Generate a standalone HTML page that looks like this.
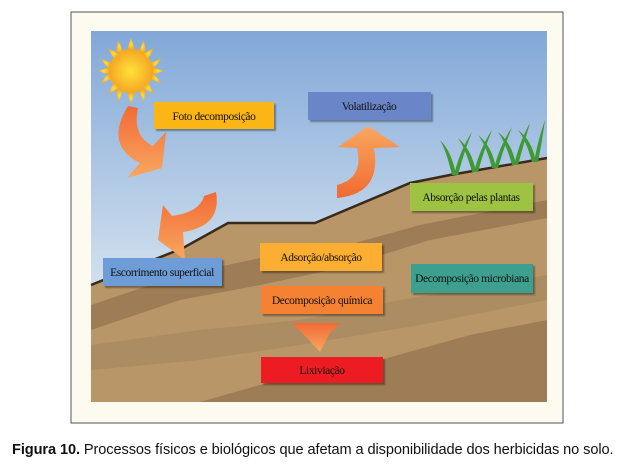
<!DOCTYPE html>
<html><head><meta charset="utf-8"><style>
html,body{margin:0;padding:0;background:#fff;width:631px;height:470px;overflow:hidden}
.cap{position:absolute;left:12px;top:442px;font-family:"Liberation Sans",sans-serif;font-size:14.6px;color:#111;white-space:nowrap;letter-spacing:-0.1px}
</style></head><body>
<svg width="631" height="440" style="position:absolute;left:0;top:0">
<defs>
<linearGradient id="sky" x1="0" y1="0" x2="0" y2="1"><stop offset="0" stop-color="#82a8d8"/><stop offset="0.6" stop-color="#c8daec"/><stop offset="1" stop-color="#eef2f2"/></linearGradient>
<radialGradient id="sun"><stop offset="0" stop-color="#ffe23a"/><stop offset="1" stop-color="#f5a623"/></radialGradient>
<linearGradient id="ar" x1="0" y1="0" x2="0" y2="1"><stop offset="0" stop-color="#f26a35"/><stop offset="1" stop-color="#f8a860"/></linearGradient>
<linearGradient id="ar2" x1="0" y1="0" x2="0" y2="1"><stop offset="0" stop-color="#f8a860"/><stop offset="1" stop-color="#f26a30"/></linearGradient>
<filter id="sh"><feDropShadow dx="2" dy="2" stdDeviation="0.8" flood-color="#000" flood-opacity="0.35"/></filter>
</defs>
<rect x="71" y="12" width="492" height="411" fill="#fdfbef" stroke="#555" stroke-width="1"/>
<rect x="91" y="31" width="456" height="371" fill="url(#sky)"/>
<polygon points="91,285 183,248 228,223 315,223 410,183 450,175 547,158 547,402 91,402" fill="#b89668"/>
<polygon points="91,305 180,275 260,258 330,250 420,225 547,200 547,218 430,240 340,268 260,285 180,300 91,330" fill="#9e7c55"/>
<polygon points="91,345 200,330 300,320 400,300 547,275 547,300 420,325 300,345 200,360 91,370" fill="#a98a60" opacity="0.8"/>
<polygon points="200,402 260,385 380,360 470,335 547,320 547,402" fill="#9e7c55"/>
<polyline points="91,285 183,248 228,223 315,223 410,183 450,175 547,158" fill="none" stroke="#3a2a1a" stroke-width="2.5"/>
<g fill="#3f9a35">
<path d="M452,175 Q446,150 440,140 Q452,152 456,175Z"/><path d="M454,175 Q460,150 472,132 Q464,152 458,175Z"/>
<path d="M472,172 Q466,150 458,138 Q472,150 476,172Z"/><path d="M474,172 Q480,148 492,130 Q484,150 478,172Z"/>
<path d="M492,168 Q486,145 478,135 Q492,146 496,168Z"/><path d="M494,168 Q500,145 512,127 Q504,147 498,168Z"/>
<path d="M512,165 Q506,143 498,132 Q512,143 516,165Z"/><path d="M514,165 Q520,140 530,123 Q524,143 518,165Z"/>
<path d="M532,162 Q526,140 518,130 Q532,140 536,162Z"/><path d="M534,162 Q538,140 545,120 Q542,142 538,162Z"/>
</g>
<g fill="url(#sun)">
<circle cx="131" cy="71" r="22"/>
<polygon points="131,38 135,50 127,50"/><polygon points="131,104 135,92 127,92"/><polygon points="98,71 110,67 110,75"/><polygon points="164,71 152,67 152,75"/>
<polygon points="108,48 119,54 114,59"/><polygon points="154,94 143,88 148,83"/><polygon points="154,48 148,59 143,54"/><polygon points="108,94 114,83 119,88"/>
<polygon points="118,40 123,51 116,53"/><polygon points="144,102 139,91 146,89"/><polygon points="100,58 111,63 109,69"/><polygon points="162,84 151,79 153,73"/>
<polygon points="144,40 146,53 139,51"/><polygon points="118,102 116,89 123,91"/><polygon points="162,58 153,69 151,63"/><polygon points="100,84 109,73 111,79"/>
</g>
<path d="M128,106 Q104,145 140,163 L127,178 L162,168 L166,132 L153,146 Q132,136 138,108 Z" fill="url(#ar)"/>
<path d="M216,192 Q222,226 183,232 L185,260 L158,240 L163,205 L172,216 Q200,212 204,196 Z" fill="url(#ar)"/>
<path d="M337,198 Q382,194 374,148 L400,147 L368,126 L338,147 L357,148 Q364,178 337,185 Z" fill="url(#ar2)"/>
<polygon points="292,323 340,323 330,333 320,352 302,333" fill="url(#ar)"/>
<g filter="url(#sh)">
<rect x="154" y="102" width="120" height="27" fill="#fbb614"/>
<rect x="308" y="92" width="123" height="28" fill="#6b85c8"/>
<rect x="410" y="183" width="123" height="28" fill="#9ec243"/>
<rect x="103" y="258" width="119" height="28" fill="#6d9cd6"/>
<rect x="260" y="243" width="122" height="28" fill="#fcae32"/>
<rect x="411" y="264" width="122" height="29" fill="#3ea08e"/>
<rect x="261" y="286" width="122" height="28" fill="#f58233"/>
<rect x="261" y="357" width="122" height="26" fill="#ed1c24"/>
</g>
<g font-family="Liberation Serif,serif" font-size="11.5" text-anchor="middle" fill="#111" letter-spacing="-0.4">
<text x="214" y="120">Foto decomposição</text>
<text x="369" y="110">Volatilização</text>
<text x="471" y="201">Absorção pelas plantas</text>
<text x="162" y="276">Escorrimento superficial</text>
<text x="321" y="261">Adsorção/absorção</text>
<text x="472" y="282">Decomposição microbiana</text>
<text x="322" y="304">Decomposição química</text>
<text x="322" y="374">Lixiviação</text>
</g>
</svg>
<div class="cap"><b>Figura 10.</b> Processos físicos e biológicos que afetam a disponibilidade dos herbicidas no solo.</div>
</body></html>
